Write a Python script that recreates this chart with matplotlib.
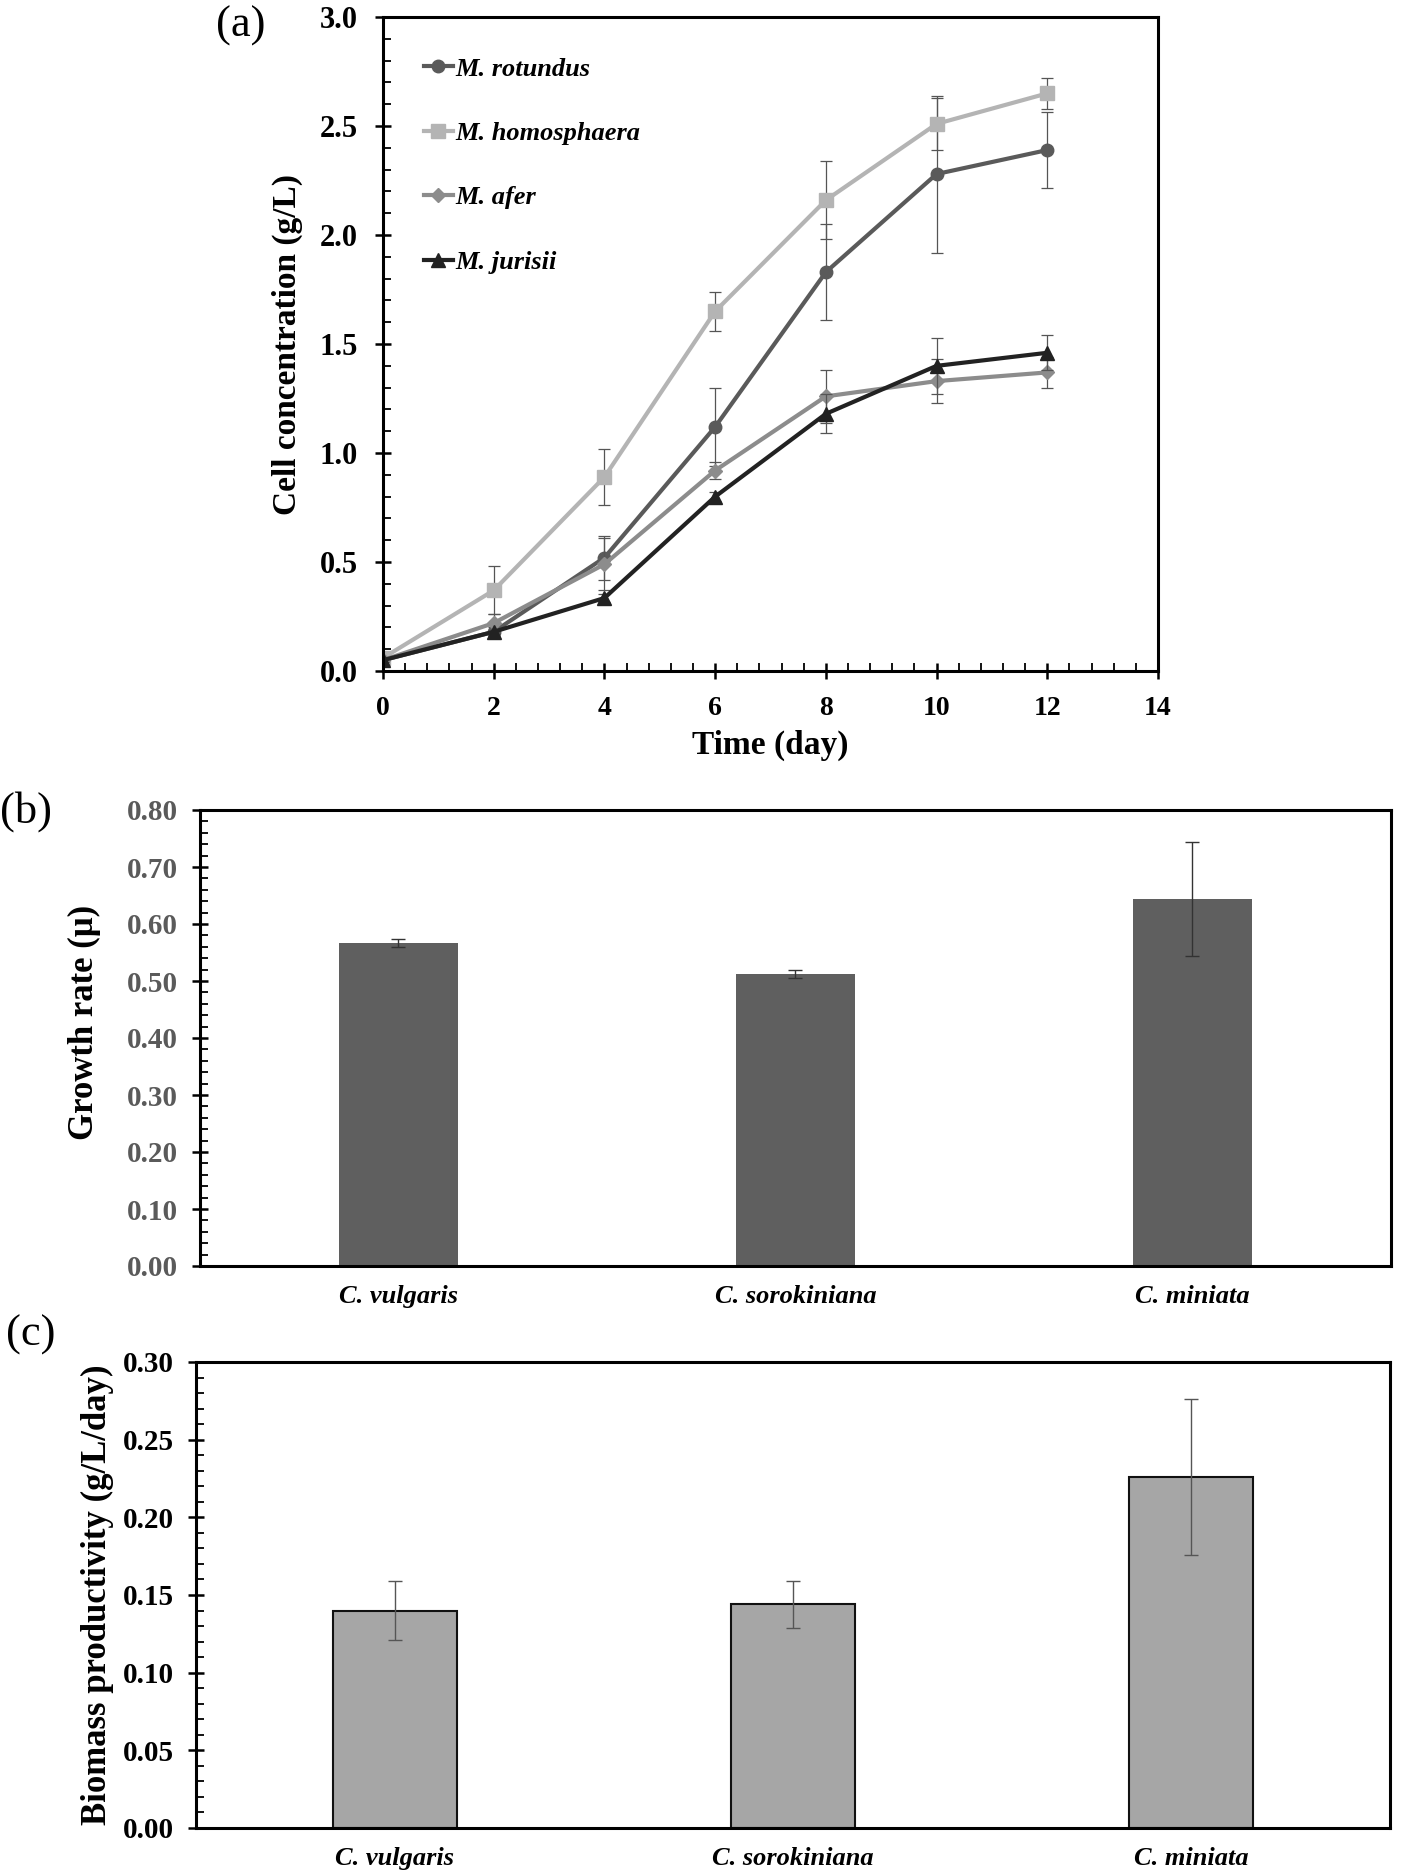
# -*- coding: utf-8 -*-

# 3パネル図：(a) 増殖曲線, (b) 比増殖速度, (c) バイオマス生産性

import numpy as np
import matplotlib
matplotlib.use("Agg")
import matplotlib.pyplot as plt
from matplotlib.ticker import MultipleLocator, FormatStrFormatter

plt.rcParams["font.family"] = ["Liberation Serif", "DejaVu Serif"]

# (a) データ
days = [0, 2, 4, 6, 8, 10, 12]
species = ["M. rotundus", "M. homosphaera", "M. afer", "M. jurisii"]
rotundus = [0.05, 0.18, 0.52, 1.12, 1.83, 2.28, 2.39]
rotundus_err = [0.01, 0.02, 0.10, 0.18, 0.22, 0.36, 0.175]
homosphaera = [0.06, 0.37, 0.89, 1.65, 2.16, 2.51, 2.65]
homosphaera_err = [0.01, 0.11, 0.13, 0.09, 0.18, 0.12, 0.07]
afer = [0.05, 0.22, 0.49, 0.92, 1.26, 1.33, 1.37]
afer_err = [0.01, 0.04, 0.12, 0.04, 0.12, 0.10, 0.07]
jurisii = [0.05, 0.18, 0.335, 0.80, 1.18, 1.40, 1.46]
jurisii_err = [0.01, 0.01, 0.02, 0.02, 0.09, 0.13, 0.08]

# (b), (c) データ
strains = ["C. vulgaris", "C. sorokiniana", "C. miniata"]
growth_rate = [0.567, 0.512, 0.643]
growth_rate_err = [0.007, 0.007, 0.10]
productivity = [0.140, 0.144, 0.226]
productivity_err = [0.019, 0.015, 0.050]


def style_axis(ax, ymajor, yminor, lw=2.2):
    for sp in ax.spines.values():
        sp.set_linewidth(lw)
    ax.yaxis.set_major_locator(MultipleLocator(ymajor))
    ax.yaxis.set_minor_locator(MultipleLocator(yminor))
    ax.tick_params(axis="y", which="major", direction="inout", length=12, width=1.8)
    ax.tick_params(axis="y", which="minor", direction="in", length=6, width=1.3)


fig = plt.figure(figsize=(14.2, 18.75), dpi=100)

# ---- (a) ----
ax1 = fig.add_axes([0.2697, 0.6421, 0.5458, 0.3488])
series = [
    (rotundus, rotundus_err, "#5a5a5a", "o", 9),
    (homosphaera, homosphaera_err, "#b4b4b4", "s", 10),
    (afer, afer_err, "#8c8c8c", "D", 7),
    (jurisii, jurisii_err, "#222222", "^", 10),
]
for name, (y, e, c, m, ms) in zip(species, series):
    ax1.errorbar(days, y, yerr=e, fmt="none", ecolor="#555555",
                 elinewidth=0.9, capsize=4, capthick=0.9)
    ax1.plot(days, y, color=c, marker=m, markersize=ms, lw=3, label=name)
ax1.set_xlim(0, 14)
ax1.set_ylim(0, 3.0)
style_axis(ax1, 0.5, 0.1)
ax1.xaxis.set_major_locator(MultipleLocator(2))
ax1.xaxis.set_minor_locator(MultipleLocator(0.4))
ax1.tick_params(axis="x", which="major", direction="inout", length=12, width=1.8)
ax1.tick_params(axis="x", which="minor", direction="in", length=6, width=1.3)
ax1.yaxis.set_major_formatter(FormatStrFormatter("%.1f"))
for lab in ax1.get_xticklabels():
    lab.set_fontweight("bold")
    lab.set_fontsize(20)
for lab in ax1.get_yticklabels():
    lab.set_fontweight("bold")
    lab.set_fontsize(22)
ax1.tick_params(axis="x", pad=12)
ax1.tick_params(axis="y", pad=12)
ax1.set_xlabel("Time (day)", fontsize=24, fontweight="bold", labelpad=6)
ax1.set_ylabel("Cell concentration (g/L)", fontsize=24, fontweight="bold", labelpad=12)
leg = ax1.legend(loc="upper left", bbox_to_anchor=(0.012, 0.987), frameon=False,
                 prop={"style": "italic", "weight": "bold", "size": 19},
                 handlelength=1.1, handletextpad=0.1, labelspacing=1.55,
                 borderaxespad=0.8)
fig.text(0.152, 0.997, "(a)", fontsize=32, va="top")

# ---- (b) ----
x = np.arange(len(strains))
ax2 = fig.add_axes([0.1408, 0.3248, 0.8387, 0.2432])
ax2.bar(x, growth_rate, width=0.3, color="#5f5f5f")
ax2.errorbar(x, growth_rate, yerr=growth_rate_err, fmt="none", ecolor="#333333",
             elinewidth=1.0, capsize=5, capthick=1.0)
ax2.set_xlim(-0.5, 2.5)
ax2.set_ylim(0, 0.8)
style_axis(ax2, 0.1, 0.02)
ax2.yaxis.set_major_formatter(FormatStrFormatter("%.2f"))
ax2.set_xticks(x)
ax2.set_xticklabels(strains, fontsize=19, fontweight="bold", style="italic")
ax2.tick_params(axis="x", length=0, pad=14)
ax2.tick_params(axis="y", pad=10)
for lab in ax2.get_yticklabels():
    lab.set_fontweight("bold")
    lab.set_fontsize(21)
    lab.set_color("#5a5a5a")
ax2.set_ylabel("Growth rate (μ)", fontsize=25, fontweight="bold")
ax2.yaxis.set_label_coords(-0.083, 0.535)
fig.text(0.0, 0.578, "(b)", fontsize=32, va="top")

# ---- (c) ----
ax3 = fig.add_axes([0.138, 0.0251, 0.8408, 0.2485])
ax3.bar(x, productivity, width=0.31, color="#a6a6a6", edgecolor="#111111", linewidth=1.5)
ax3.errorbar(x, productivity, yerr=productivity_err, fmt="none", ecolor="#555555",
             elinewidth=1.0, capsize=5, capthick=1.0)
ax3.set_xlim(-0.5, 2.5)
ax3.set_ylim(0, 0.30)
style_axis(ax3, 0.05, 0.01)
ax3.yaxis.set_major_formatter(FormatStrFormatter("%.2f"))
ax3.set_xticks(x)
ax3.set_xticklabels(strains, fontsize=19, fontweight="bold", style="italic")
ax3.tick_params(axis="x", length=0, pad=14)
ax3.tick_params(axis="y", pad=10)
for lab in ax3.get_yticklabels():
    lab.set_fontweight("bold")
    lab.set_fontsize(21)
ax3.set_ylabel("Biomass productivity (g/L/day)", fontsize=25, fontweight="bold", labelpad=6)
fig.text(0.004, 0.299, "(c)", fontsize=32, va="top")

fig.savefig("out.png", dpi=100)
